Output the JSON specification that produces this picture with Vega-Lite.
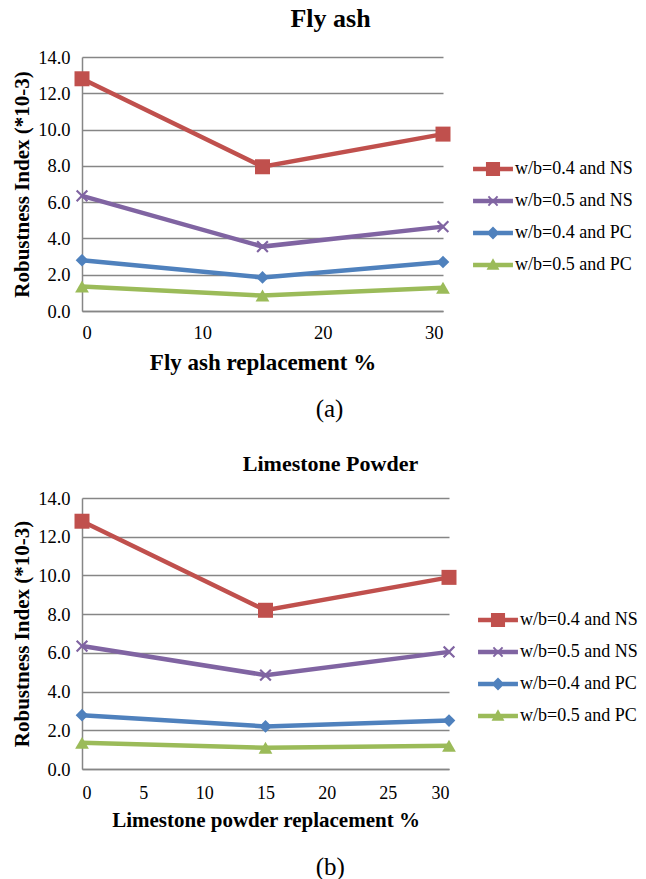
{
  "$schema": "https://vega.github.io/schema/vega-lite/v6.json",
  "padding": {"left": 11, "top": 6, "right": 0, "bottom": 0},
  "config": {
    "font": "Liberation Serif",
    "view": {"stroke": null},
    "axis": {
      "labelFont": "Liberation Serif",
      "titleFont": "Liberation Serif",
      "labelColor": "#000000",
      "titleColor": "#000000",
      "titleFontWeight": "bold",
      "domainColor": "#868686",
      "domainWidth": 1.5,
      "gridColor": "#868686",
      "gridWidth": 1.5,
      "gridOpacity": 1,
      "ticks": false
    },
    "legend": {
      "orient": "none",
      "labelFont": "Liberation Serif",
      "labelFontSize": 18,
      "labelColor": "#000000",
      "symbolSize": 900,
      "symbolStrokeWidth": 0,
      "rowPadding": 8,
      "labelOffset": 7,
      "padding": 0
    },
    "title": {"font": "Liberation Serif", "color": "#000000"},
    "concat": {"spacing": 31}
  },
  "datasets": {
    "flyash": [
      {"x": 0, "y": 12.8, "series": "w/b=0.4 and NS"},
      {"x": 15, "y": 7.95, "series": "w/b=0.4 and NS"},
      {"x": 30, "y": 9.75, "series": "w/b=0.4 and NS"},
      {"x": 0, "y": 6.35, "series": "w/b=0.5 and NS"},
      {"x": 15, "y": 3.55, "series": "w/b=0.5 and NS"},
      {"x": 30, "y": 4.65, "series": "w/b=0.5 and NS"},
      {"x": 0, "y": 2.8, "series": "w/b=0.4 and PC"},
      {"x": 15, "y": 1.85, "series": "w/b=0.4 and PC"},
      {"x": 30, "y": 2.7, "series": "w/b=0.4 and PC"},
      {"x": 0, "y": 1.35, "series": "w/b=0.5 and PC"},
      {"x": 15, "y": 0.85, "series": "w/b=0.5 and PC"},
      {"x": 30, "y": 1.28, "series": "w/b=0.5 and PC"}
    ],
    "limestone": [
      {"x": 0, "y": 12.8, "series": "w/b=0.4 and NS"},
      {"x": 15, "y": 8.2, "series": "w/b=0.4 and NS"},
      {"x": 30, "y": 9.9, "series": "w/b=0.4 and NS"},
      {"x": 0, "y": 6.35, "series": "w/b=0.5 and NS"},
      {"x": 15, "y": 4.85, "series": "w/b=0.5 and NS"},
      {"x": 30, "y": 6.05, "series": "w/b=0.5 and NS"},
      {"x": 0, "y": 2.78, "series": "w/b=0.4 and PC"},
      {"x": 15, "y": 2.2, "series": "w/b=0.4 and PC"},
      {"x": 30, "y": 2.5, "series": "w/b=0.4 and PC"},
      {"x": 0, "y": 1.35, "series": "w/b=0.5 and PC"},
      {"x": 15, "y": 1.1, "series": "w/b=0.5 and PC"},
      {"x": 30, "y": 1.2, "series": "w/b=0.5 and PC"}
    ]
  },
  "vconcat": [
    {
      "title": {"text": "(a)", "orient": "bottom", "anchor": "start", "frame": "bounds", "dx": 304, "fontSize": 25, "fontWeight": "normal", "offset": 22},
      "vconcat": [
        {
          "title": {"text": "Fly ash", "fontSize": 26, "fontWeight": "bold", "anchor": "middle", "frame": "group", "dx": 68, "offset": 16},
          "width": 361,
          "height": 254,
          "data": {"name": "flyash"},
          "encoding": {
            "x": {"field": "x", "type": "quantitative", "scale": {"domain": [0, 30], "nice": false},
              "axis": {"values": [0, 10, 20, 30], "grid": false, "title": "Fly ash replacement %", "labelFontSize": 18.5, "titleFontSize": 23, "labelPadding": 12, "titlePadding": 10}},
            "y": {"field": "y", "type": "quantitative", "scale": {"domain": [0, 14], "nice": false},
              "axis": {"values": [0, 2, 4, 6, 8, 10, 12, 14], "format": ".1f", "title": "Robustness Index (*10-3)", "labelFontSize": 18.5, "titleFontSize": 21, "labelPadding": 12, "titlePadding": 5}}
          },
          "resolve": {"legend": {"color": "independent"}},
          "layer": [
            {"mark": {"type": "line", "strokeWidth": 4.5},
              "encoding": {"color": {"field": "series", "type": "nominal", "legend": null,
                "scale": {"domain": ["w/b=0.4 and NS", "w/b=0.5 and NS", "w/b=0.4 and PC", "w/b=0.5 and PC"], "range": ["#C0504D", "#8064A2", "#4F81BD", "#9BBB59"]}}}},
            {"transform": [{"filter": "datum.series === 'w/b=0.4 and NS'"}],
              "mark": {"type": "point", "shape": "square", "filled": true, "opacity": 1, "size": 225},
              "encoding": {"color": {"field": "series", "type": "nominal", "legend": null}}},
            {"transform": [{"filter": "datum.series === 'w/b=0.5 and NS'"}],
              "mark": {"type": "point", "shape": "M-1,-0.75L-0.75,-1L0,-0.25L0.75,-1L1,-0.75L0.25,0L1,0.75L0.75,1L0,0.25L-0.75,1L-1,0.75L-0.25,0Z", "filled": true, "opacity": 1, "size": 150},
              "encoding": {"color": {"field": "series", "type": "nominal", "legend": null}}},
            {"transform": [{"filter": "datum.series === 'w/b=0.4 and PC'"}],
              "mark": {"type": "point", "shape": "diamond", "filled": true, "opacity": 1, "size": 160},
              "encoding": {"color": {"field": "series", "type": "nominal", "legend": null}}},
            {"transform": [{"filter": "datum.series === 'w/b=0.5 and PC'"}],
              "mark": {"type": "point", "shape": "triangle-up", "filled": true, "opacity": 1, "size": 190},
              "encoding": {"color": {"field": "series", "type": "nominal", "legend": null}}},
            {"transform": [{"filter": "false"}],
              "mark": {"type": "point", "filled": true, "opacity": 1},
              "encoding": {"color": {"field": "series", "type": "nominal",
                "legend": {"title": null, "legendX": 396, "legendY": 97,
                  "symbolType": {"expr": "datum.value === 'w/b=0.4 and NS' ? 'M-1.33,-0.15L1.33,-0.15L1.33,0.15L-1.33,0.15ZM-0.47,-0.47L0.47,-0.47L0.47,0.47L-0.47,0.47Z' : datum.value === 'w/b=0.5 and NS' ? 'M-1.33,-0.15L1.33,-0.15L1.33,0.15L-1.33,0.15ZM-0.35,-0.26L-0.26,-0.35L0,-0.09L0.26,-0.35L0.35,-0.26L0.09,0L0.35,0.26L0.26,0.35L0,0.09L-0.26,0.35L-0.35,0.26L-0.09,0Z' : datum.value === 'w/b=0.4 and PC' ? 'M-1.33,-0.15L1.33,-0.15L1.33,0.15L-1.33,0.15ZM0,-0.43L0.43,0L0,0.43L-0.43,0Z' : 'M-1.33,-0.15L1.33,-0.15L1.33,0.15L-1.33,0.15ZM0,-0.45L0.43,0.32L-0.43,0.32Z'"}}}}}
          ]
        }
      ]
    },
    {
      "title": {"text": "(b)", "orient": "bottom", "anchor": "start", "frame": "bounds", "dx": 304, "fontSize": 25, "fontWeight": "normal", "offset": 25},
      "vconcat": [
        {
          "title": {"text": "Limestone Powder", "fontSize": 22, "fontWeight": "bold", "anchor": "middle", "frame": "group", "dx": 65, "offset": 13},
          "width": 367,
          "height": 271,
          "data": {"name": "limestone"},
          "encoding": {
            "x": {"field": "x", "type": "quantitative", "scale": {"domain": [0, 30], "nice": false},
              "axis": {"values": [0, 5, 10, 15, 20, 25, 30], "grid": false, "title": "Limestone powder replacement %", "labelFontSize": 18, "titleFontSize": 21, "labelPadding": 15, "titlePadding": 7}},
            "y": {"field": "y", "type": "quantitative", "scale": {"domain": [0, 14], "nice": false},
              "axis": {"values": [0, 2, 4, 6, 8, 10, 12, 14], "format": ".1f", "title": "Robustness Index (*10-3)", "labelFontSize": 18.5, "titleFontSize": 21, "labelPadding": 12, "titlePadding": 5}}
          },
          "resolve": {"legend": {"color": "independent"}},
          "layer": [
            {"mark": {"type": "line", "strokeWidth": 4.5},
              "encoding": {"color": {"field": "series", "type": "nominal", "legend": null,
                "scale": {"domain": ["w/b=0.4 and NS", "w/b=0.5 and NS", "w/b=0.4 and PC", "w/b=0.5 and PC"], "range": ["#C0504D", "#8064A2", "#4F81BD", "#9BBB59"]}}}},
            {"transform": [{"filter": "datum.series === 'w/b=0.4 and NS'"}],
              "mark": {"type": "point", "shape": "square", "filled": true, "opacity": 1, "size": 225},
              "encoding": {"color": {"field": "series", "type": "nominal", "legend": null}}},
            {"transform": [{"filter": "datum.series === 'w/b=0.5 and NS'"}],
              "mark": {"type": "point", "shape": "M-1,-0.75L-0.75,-1L0,-0.25L0.75,-1L1,-0.75L0.25,0L1,0.75L0.75,1L0,0.25L-0.75,1L-1,0.75L-0.25,0Z", "filled": true, "opacity": 1, "size": 150},
              "encoding": {"color": {"field": "series", "type": "nominal", "legend": null}}},
            {"transform": [{"filter": "datum.series === 'w/b=0.4 and PC'"}],
              "mark": {"type": "point", "shape": "diamond", "filled": true, "opacity": 1, "size": 160},
              "encoding": {"color": {"field": "series", "type": "nominal", "legend": null}}},
            {"transform": [{"filter": "datum.series === 'w/b=0.5 and PC'"}],
              "mark": {"type": "point", "shape": "triangle-up", "filled": true, "opacity": 1, "size": 190},
              "encoding": {"color": {"field": "series", "type": "nominal", "legend": null}}},
            {"transform": [{"filter": "false"}],
              "mark": {"type": "point", "filled": true, "opacity": 1},
              "encoding": {"color": {"field": "series", "type": "nominal",
                "legend": {"title": null, "legendX": 401, "legendY": 107,
                  "symbolType": {"expr": "datum.value === 'w/b=0.4 and NS' ? 'M-1.33,-0.15L1.33,-0.15L1.33,0.15L-1.33,0.15ZM-0.47,-0.47L0.47,-0.47L0.47,0.47L-0.47,0.47Z' : datum.value === 'w/b=0.5 and NS' ? 'M-1.33,-0.15L1.33,-0.15L1.33,0.15L-1.33,0.15ZM-0.35,-0.26L-0.26,-0.35L0,-0.09L0.26,-0.35L0.35,-0.26L0.09,0L0.35,0.26L0.26,0.35L0,0.09L-0.26,0.35L-0.35,0.26L-0.09,0Z' : datum.value === 'w/b=0.4 and PC' ? 'M-1.33,-0.15L1.33,-0.15L1.33,0.15L-1.33,0.15ZM0,-0.43L0.43,0L0,0.43L-0.43,0Z' : 'M-1.33,-0.15L1.33,-0.15L1.33,0.15L-1.33,0.15ZM0,-0.45L0.43,0.32L-0.43,0.32Z'"}}}}}
          ]
        }
      ]
    }
  ]
}
